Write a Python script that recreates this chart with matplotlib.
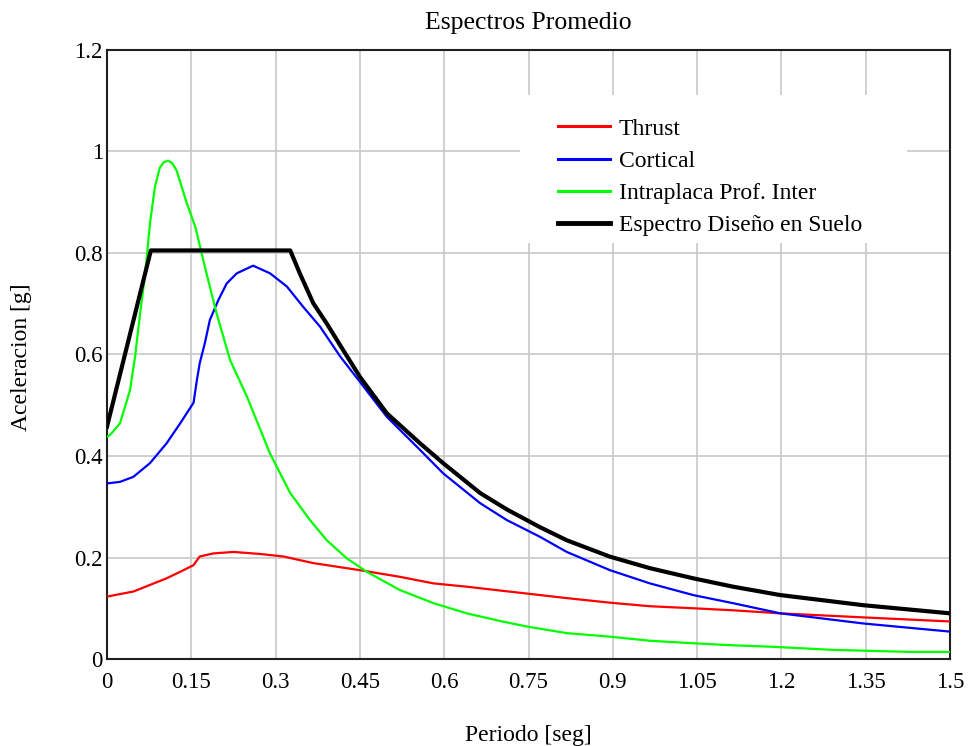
import matplotlib
matplotlib.use('Agg')
import matplotlib.pyplot as plt
from matplotlib.patches import Rectangle

plt.rcParams['font.family'] = ['Liberation Serif', 'DejaVu Serif']

# average spectra, period [s] vs acceleration [g]
t_thrust = [0, 0.047, 0.0765, 0.106, 0.136, 0.154, 0.165, 0.189, 0.225, 0.272, 0.314, 0.367,
            0.45, 0.521, 0.581, 0.640, 0.699, 0.747, 0.818, 0.895, 0.966, 1.043, 1.114, 1.198,
            1.346, 1.5]
a_thrust = [0.123, 0.133, 0.146, 0.159, 0.175, 0.185, 0.202, 0.208, 0.211, 0.207, 0.202, 0.189,
            0.175, 0.162, 0.149, 0.1425, 0.135, 0.129, 0.120, 0.111, 0.104, 0.100, 0.096, 0.090,
            0.082, 0.074]

t_cortical = [0, 0.023, 0.047, 0.0765, 0.106, 0.130, 0.154, 0.160, 0.165, 0.174, 0.183, 0.198,
              0.213, 0.231, 0.260, 0.290, 0.320, 0.349, 0.379, 0.415, 0.450, 0.498, 0.557, 0.598,
              0.664, 0.711, 0.770, 0.818, 0.895, 0.966, 1.043, 1.114, 1.198, 1.346, 1.5]
a_cortical = [0.346, 0.349, 0.359, 0.386, 0.425, 0.464, 0.505, 0.550, 0.583, 0.622, 0.668, 0.707,
              0.740, 0.760, 0.775, 0.760, 0.734, 0.694, 0.655, 0.596, 0.546, 0.477, 0.412, 0.366,
              0.307, 0.274, 0.241, 0.211, 0.175, 0.149, 0.126, 0.110, 0.090, 0.070, 0.054]

t_intra = [0, 0.005, 0.023, 0.041, 0.050, 0.059, 0.068, 0.0765, 0.0854, 0.094, 0.101, 0.109,
           0.116, 0.124, 0.142, 0.157, 0.1685, 0.177, 0.195, 0.219, 0.249, 0.290, 0.326, 0.361,
           0.391, 0.427, 0.462, 0.521, 0.581, 0.640, 0.699, 0.747, 0.818, 0.895, 0.966, 1.043,
           1.114, 1.186, 1.292, 1.429, 1.5]
a_intra = [0.438, 0.441, 0.464, 0.530, 0.596, 0.682, 0.760, 0.859, 0.931, 0.968, 0.979, 0.982,
           0.977, 0.962, 0.898, 0.852, 0.799, 0.760, 0.681, 0.589, 0.517, 0.405, 0.327, 0.274,
           0.234, 0.198, 0.172, 0.136, 0.110, 0.090, 0.075, 0.064, 0.051, 0.044, 0.036, 0.031,
           0.027, 0.024, 0.018, 0.014, 0.014]

t_design = [0, 0.078, 0.326, 0.343, 0.367, 0.391, 0.420, 0.450, 0.498, 0.557, 0.598, 0.664,
            0.711, 0.770, 0.818, 0.895, 0.966, 1.043, 1.114, 1.198, 1.346, 1.5]
a_design = [0.458, 0.805, 0.805, 0.760, 0.701, 0.661, 0.609, 0.556, 0.484, 0.425, 0.386, 0.327,
            0.295, 0.260, 0.234, 0.2016, 0.179, 0.159, 0.1425, 0.126, 0.106, 0.090]

x_ticks = [0, 0.15, 0.3, 0.45, 0.6, 0.75, 0.9, 1.05, 1.2, 1.35, 1.5]
x_labels = ['0', '0.15', '0.3', '0.45', '0.6', '0.75', '0.9', '1.05', '1.2', '1.35', '1.5']
y_ticks = [0, 0.2, 0.4, 0.6, 0.8, 1.0, 1.2]
y_labels = ['0', '0.2', '0.4', '0.6', '0.8', '1', '1.2']

fig = plt.figure(figsize=(9.71, 7.46), dpi=100)
ax = fig.add_axes([0.1102, 0.1166, 0.8682, 0.8164])

ax.plot(t_thrust, a_thrust, color='#ff0000', lw=1.6, label='Thrust', zorder=3)
ax.plot(t_cortical, a_cortical, color='#0000ff', lw=1.6, label='Cortical', zorder=3)
ax.plot(t_intra, a_intra, color='#00ff00', lw=1.6, label='Intraplaca Prof. Inter', zorder=3)
ax.plot(t_design, a_design, color='black', lw=3.0, label='Espectro Diseño en Suelo', zorder=4)

ax.set_xlim(0, 1.5)
ax.set_ylim(0, 1.2)
ax.set_xticks(x_ticks)
ax.set_xticklabels(x_labels)
ax.set_yticks(y_ticks)
ax.set_yticklabels(y_labels)
ax.tick_params(axis='both', length=0, labelsize=16.5)
ax.tick_params(axis='x', pad=9)
ax.tick_params(axis='y', pad=3)
ax.grid(True, color='#c8c8c8', lw=1.2)
ax.set_axisbelow(True)
for s in ax.spines.values():
    s.set_color('#202020')
    s.set_linewidth(1.5)

# white patch behind the legend, hides the grid
ax.add_patch(Rectangle((0.49, 0.683), 0.459, 0.243, transform=ax.transAxes,
                       facecolor='white', edgecolor='none', zorder=1))
leg = ax.legend(loc='upper left', bbox_to_anchor=(0.535, 0.888), frameon=False,
                fontsize=17, borderpad=0, handlelength=2.2, handletextpad=0.38,
                labelspacing=0.45, borderaxespad=0)
for h in leg.get_lines()[:3]:
    h.set_linewidth(2.2)
leg.get_lines()[3].set_linewidth(3.5)

ax.set_title('Espectros Promedio', fontsize=18.5, pad=15)
fig.text(528 / 971, 1 - 735 / 746, 'Periodo [seg]', ha='center', va='center', fontsize=17)
fig.text(22 / 971, 1 - 357 / 746, 'Aceleracion [g]', ha='center', va='center',
         rotation=90, fontsize=17)

fig.savefig('out.png', dpi=100)
